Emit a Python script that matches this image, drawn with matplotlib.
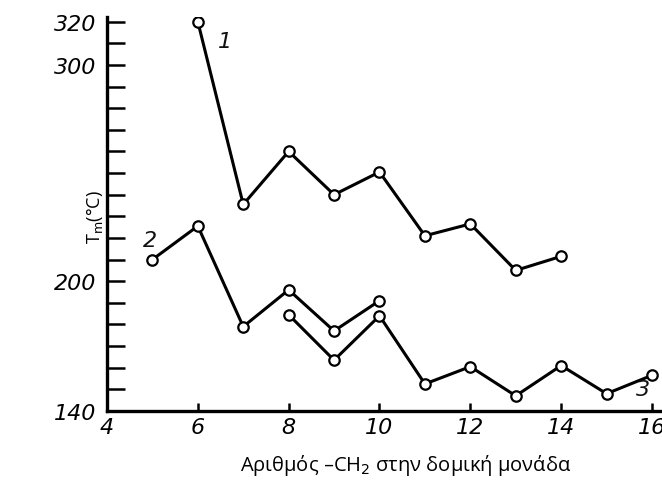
import matplotlib
matplotlib.use("Agg")
import matplotlib.pyplot as plt

# Number of -CH2- groups in the repeat unit vs melting temperature
x1 = [6, 7, 8, 9, 10, 11, 12, 13, 14]
tm1 = [320, 235.5, 260, 240, 250.5, 221, 226.5, 205, 211.5]

x2 = [5, 6, 7, 8, 9, 10]
tm2 = [210, 225.5, 179, 196, 177, 191]

x3 = [8, 9, 10, 11, 12, 13, 14, 15, 16]
tm3 = [184.5, 163.5, 184, 152.5, 160.5, 147, 161, 148, 156.5]

series_labels = ["1", "2", "3"]
label_pos = [(6.6, 311), (4.95, 219), (15.8, 150)]

xticks = [4, 6, 8, 10, 12, 14, 16]
yticks_major = [140, 200, 300, 320]
yticks_minor = list(range(140, 321, 10))

fig = plt.figure(figsize=(6.62, 4.89), dpi=100)
ax = fig.add_axes([0.1616, 0.1575, 0.8384, 0.805])

for xs, ys in [(x1, tm1), (x2, tm2), (x3, tm3)]:
    ax.plot(xs, ys, color='black', lw=2.2, marker='o', markersize=7.5,
            markerfacecolor='white', markeredgecolor='black', markeredgewidth=1.6,
            solid_joinstyle='round', zorder=3)

for lab, (lx, ly) in zip(series_labels, label_pos):
    ax.text(lx, ly, lab, fontsize=16, style='italic', ha='center', va='center',
            color='#111111')

ax.set_xlim(4, 16.22)
ax.set_ylim(140, 322)

for s in ['top', 'right']:
    ax.spines[s].set_visible(False)
for s in ['left', 'bottom']:
    ax.spines[s].set_linewidth(2.4)

ax.set_xticks(xticks)
ax.set_xticklabels([str(v) for v in xticks])
ax.set_yticks(yticks_minor, minor=True)
ax.set_yticks(yticks_major)
ax.set_yticklabels([str(v) for v in yticks_major])

ax.tick_params(axis='y', which='both', direction='in', length=13, width=1.8, pad=8)
ax.tick_params(axis='x', which='major', direction='in', length=6, width=1.8, pad=4)
for t in ax.get_xticklabels() + ax.get_yticklabels():
    t.set_fontsize(16)
    t.set_fontstyle('italic')

fig.text(0.1435, 0.556, 'T$_\\mathrm{m}$(°C)', fontsize=13, family='Open Sans',
         rotation=90, ha='center', va='center')
fig.text(0.612, 0.048, 'Αριθμός –CH$_2$ στην δομική μονάδα', fontsize=14.5,
         family='Open Sans', ha='center', va='center')

fig.savefig('out.png', dpi=100)
